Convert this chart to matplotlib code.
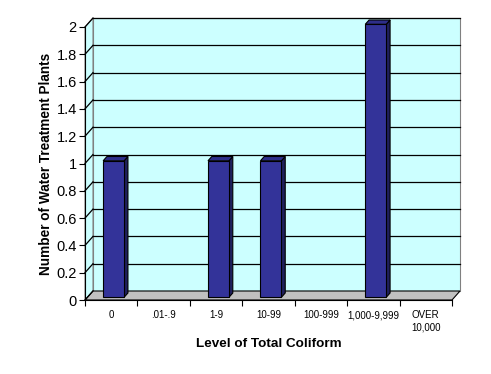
import matplotlib
matplotlib.use("Agg")
import matplotlib.pyplot as plt
from matplotlib.patches import Polygon
from matplotlib.lines import Line2D
from matplotlib.transforms import IdentityTransform
import numpy as np

categories = ["0", ".01-.9", "1-9", "10-99", "100-999", "1,000-9,999", "OVER\n10,000"]
values = [1, 0, 1, 1, 0, 2, 0]
yticks = [0, 0.2, 0.4, 0.6, 0.8, 1, 1.2, 1.4, 1.6, 1.8, 2]
ytick_labels = ["0", "0.2", "0.4", "0.6", "0.8", "1", "1.2", "1.4", "1.6", "1.8", "2"]
xlabel = "Level of Total Coliform"
ylabel = "Number of Water Treatment Plants"

plt.rcParams['font.family'] = ['Liberation Sans', 'DejaVu Sans']

DPI = 100
fig = plt.figure(figsize=(4.91, 3.74), dpi=DPI)
fig.patch.set_facecolor("white")
ax = fig.add_axes([85/491, 74/374, 367/491, 273/374])
ax.set_xlim(-0.5, len(categories) - 0.5)
ax.set_ylim(0, 2)
ax.patch.set_visible(False)

DX, DY = 8.0, 9.0  # depth offset in pixels (back wall)
ident = IdentityTransform()

def P(x, y, d=0.0):
    px, py = ax.transData.transform((x, y))
    return (px + d * DX, py + d * DY)

x0, x1 = -0.5, len(categories) - 0.5
ymax = 2

# back wall
ax.add_patch(Polygon([P(x0, 0, 1), P(x1, 0, 1), P(x1, ymax, 1), P(x0, ymax, 1)],
                     closed=True, facecolor="#CCFFFF", edgecolor="#808080",
                     lw=0.8, transform=ident, clip_on=False, zorder=1))
# left wall
ax.add_patch(Polygon([P(x0, 0, 0), P(x0, 0, 1), P(x0, ymax, 1), P(x0, ymax, 0)],
                     closed=True, facecolor="#CCFFFF", edgecolor="#808080",
                     lw=0.8, transform=ident, clip_on=False, zorder=1))
# floor
ax.add_patch(Polygon([P(x0, 0, 0), P(x1, 0, 0), P(x1, 0, 1), P(x0, 0, 1)],
                     closed=True, facecolor="#C0C0C0", edgecolor="#000000",
                     lw=0.8, transform=ident, clip_on=False, zorder=2))

# gridlines
for yv in yticks[1:]:
    a, b = P(x0, yv, 1), P(x1, yv, 1)
    ax.add_line(Line2D([a[0], b[0]], [a[1], b[1]], color="black", lw=0.9,
                       transform=ident, clip_on=False, zorder=2))
for yv in yticks:
    a, b = P(x0, yv, 0), P(x0, yv, 1)
    ax.add_line(Line2D([a[0], b[0]], [a[1], b[1]], color="black", lw=0.9,
                       transform=ident, clip_on=False, zorder=2))

# bars
bw = 0.4
d1, d2 = 0.3, 0.78
for i, v in enumerate(values):
    if v <= 0:
        continue
    l, r = i - bw / 2, i + bw / 2
    front = [P(l, 0, d1), P(r, 0, d1), P(r, v, d1), P(l, v, d1)]
    side = [P(r, 0, d1), P(r, 0, d2), P(r, v, d2), P(r, v, d1)]
    top = [P(l, v, d1), P(r, v, d1), P(r, v, d2), P(l, v, d2)]
    ax.add_patch(Polygon(side, closed=True, facecolor="#1F1F5C", edgecolor="black",
                         lw=0.8, transform=ident, clip_on=False, zorder=4))
    ax.add_patch(Polygon(top, closed=True, facecolor="#2E2E8A", edgecolor="black",
                         lw=0.8, transform=ident, clip_on=False, zorder=4))
    ax.add_patch(Polygon(front, closed=True, facecolor="#333399", edgecolor="black",
                         lw=0.8, transform=ident, clip_on=False, zorder=5))

# axes styling
for s in ["top", "right"]:
    ax.spines[s].set_visible(False)
ax.spines["left"].set_color("black")
ax.spines["bottom"].set_color("black")
ax.spines["left"].set_zorder(6)
ax.spines["bottom"].set_zorder(6)
ax.set_yticks(yticks)
ax.set_yticklabels(ytick_labels, fontsize=10.5)
ax.tick_params(axis="y", direction="out", length=4, width=0.8, pad=2)
ax.set_xticks(range(len(categories)))
ax.set_xticklabels(categories, fontsize=7, linespacing=1.25)
ax.set_xticks(np.arange(-0.5, len(categories), 1.0), minor=True)
ax.tick_params(axis="x", which="major", length=0, pad=7.5)
ax.tick_params(axis="x", which="minor", direction="out", length=4, width=0.8)

ax.set_xlabel(xlabel, fontsize=9.7, fontweight="bold", labelpad=4)
ax.set_ylabel(ylabel, fontsize=9.8, fontweight="bold", labelpad=2.5)

fig.savefig("out.png", dpi=DPI)
